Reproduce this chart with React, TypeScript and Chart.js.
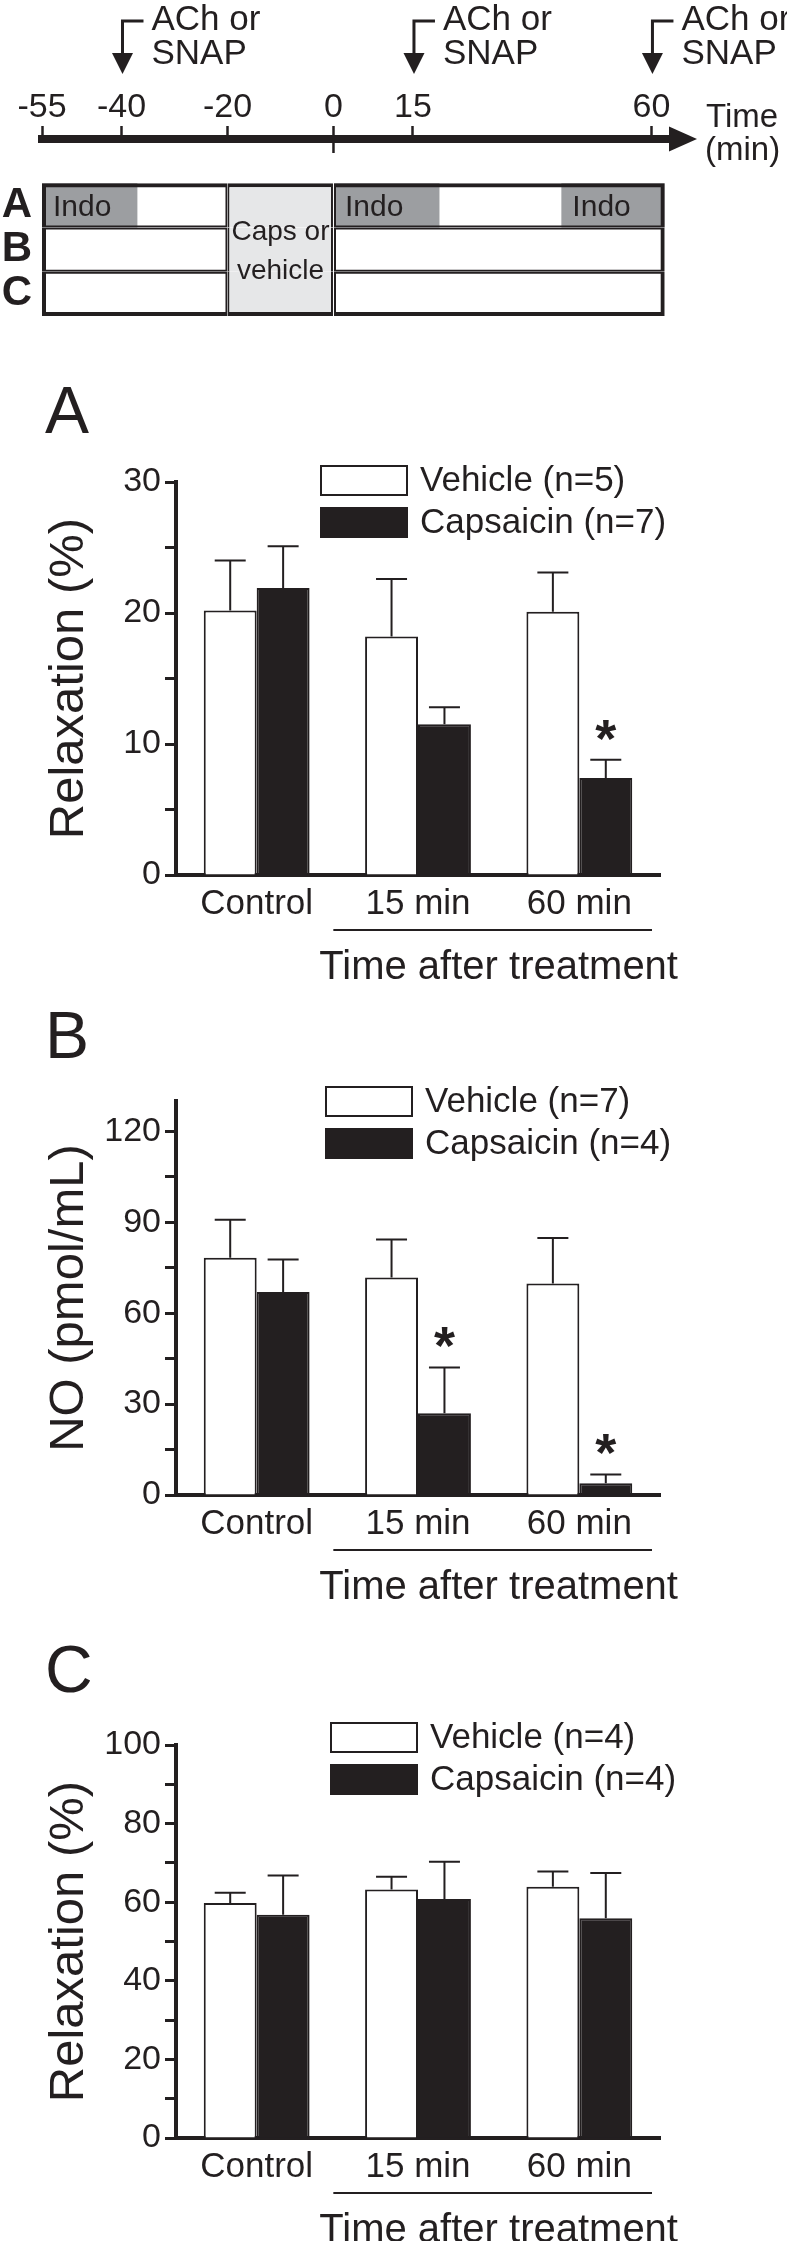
import React, { useEffect, useRef } from 'react';
import { Chart, registerables } from 'chart.js';

Chart.register(...registerables);

// ---------------- data: protocol timeline (minutes) ----------------
const TIME_TICKS = [-55, -40, -20, 0, 15, 60];
const ARROW_TIMES = [-40, 15, 60];
const ARROW_TEXT = ['ACh or', 'SNAP'];
const TIME_LABEL = ['Time', '(min)'];
const PROTOCOL_ROWS = ['', 'A', 'B', 'C'];
const PRE_PERIOD = [-55, -20];
const TREATMENT_PERIOD = [-20, 0];
const POST_PERIOD = [0, 62.5];
const INDO_PERIODS = [[-55, -37], [0, 20], [43, 62.5]];
const INDO_TEXT = 'Indo';
const TREATMENT_TEXT = ['Caps or', 'vehicle'];
const TIME_MIN = -55;
const TIME_MAX = 63.5;

// ---------------- data: bar panels ----------------
const CATEGORIES = ['Control', '15 min', '60 min'];
const GROUP_TITLE = 'Time after treatment';

const A_LABELS = ['Vehicle (n=5)', 'Capsaicin (n=7)'];
const A_VEHICLE = [20.2, 18.2, 20.1];
const A_VEHICLE_SEM = [3.8, 4.4, 3.0];
const A_CAPS = [21.9, 11.5, 7.4];
const A_CAPS_SEM = [3.2, 1.3, 1.4];
const A_CAPS_SIG = [false, false, true];

const B_LABELS = ['Vehicle (n=7)', 'Capsaicin (n=4)'];
const B_VEHICLE = [78.3, 71.8, 69.8];
const B_VEHICLE_SEM = [12.5, 12.5, 15.0];
const B_CAPS = [67.0, 27.0, 3.9];
const B_CAPS_SEM = [10.7, 15.1, 2.9];
const B_CAPS_SIG = [false, true, true];

const C_LABELS = ['Vehicle (n=4)', 'Capsaicin (n=4)'];
const C_VEHICLE = [59.8, 63.2, 63.9];
const C_VEHICLE_SEM = [2.6, 3.3, 3.9];
const C_CAPS = [56.8, 60.8, 55.9];
const C_CAPS_SEM = [10.0, 9.5, 11.5];
const C_CAPS_SIG = [false, false, false];

// ---------------- styles ----------------
const INK = '#231f20';
const INDO_GRAY = '#9c9ea1';
const TREAT_GRAY = '#e6e7e8';
const REG = "'Liberation Sans', Arial, sans-serif";

function hasFont(name: string): boolean {
  try {
    const c = document.createElement('canvas').getContext('2d');
    if (!c) return false;
    const s = 'Capsaicin 0123 Wmi';
    c.font = '100px monospace';
    const a = c.measureText(s).width;
    c.font = `100px '${name}', monospace`;
    const b = c.measureText(s).width;
    return Math.abs(a - b) > 0.5;
  } catch (e) {
    return false;
  }
}
const NARROW = hasFont('Liberation Sans Narrow');
const COND = NARROW ? "'Liberation Sans Narrow', 'Liberation Sans', sans-serif" : REG;
const K = NARROW ? 1 : 0.86;
const fs = (n: number) => Math.round(n * K);

// ---------------- timeline chart ----------------
function rowRange(range: number[]) {
  return PROTOCOL_ROWS.map((r) => (r === '' ? null : range));
}
function indoRange(range: number[]) {
  return PROTOCOL_ROWS.map((r) => (r === 'A' ? range : null));
}
const OUTER = 4;
const INNER = 2;
function boxBorder(kind: 'pre' | 'treat' | 'post') {
  return (ctx: any) => {
    const i = ctx.dataIndex;
    const first = i === 1;
    const last = i === PROTOCOL_ROWS.length - 1;
    const mid = kind === 'treat' ? 0 : INNER;
    return {
      top: first ? OUTER : mid,
      bottom: last ? OUTER : mid,
      left: kind === 'pre' ? OUTER : INNER,
      right: kind === 'post' ? OUTER : INNER,
    };
  };
}

const timelinePlugin = {
  id: 'timelineDecor',
  afterDraw(chart: any) {
    const { ctx, chartArea, scales } = chart;
    const xs = scales.x;
    const ys = scales.y;
    const axisY = chartArea.top;
    ctx.save();
    ctx.fillStyle = INK;
    ctx.strokeStyle = INK;
    // arrow head of time axis
    ctx.beginPath();
    ctx.moveTo(chartArea.right - 1, axisY - 12.5);
    ctx.lineTo(chartArea.right + 27, axisY);
    ctx.lineTo(chartArea.right - 1, axisY + 12.5);
    ctx.closePath();
    ctx.fill();
    // time zero mark below the axis
    const x0 = xs.getPixelForValue(0);
    ctx.lineWidth = 2.5;
    ctx.beginPath();
    ctx.moveTo(x0, axisY);
    ctx.lineTo(x0, axisY + 14);
    ctx.stroke();
    // axis caption
    ctx.font = `33px ${REG}`;
    ctx.textAlign = 'left';
    ctx.textBaseline = 'alphabetic';
    ctx.fillText(TIME_LABEL[0], chartArea.right + 36, axisY - 12);
    ctx.fillText(TIME_LABEL[1], chartArea.right + 35, axisY + 21);
    // application arrows
    ctx.font = `35px ${REG}`;
    ARROW_TIMES.forEach((t) => {
      const x = xs.getPixelForValue(t) + 1;
      ctx.lineWidth = 3;
      ctx.beginPath();
      ctx.moveTo(x + 21, axisY - 118);
      ctx.lineTo(x, axisY - 118);
      ctx.lineTo(x, axisY - 84);
      ctx.stroke();
      ctx.beginPath();
      ctx.moveTo(x - 10.5, axisY - 86);
      ctx.lineTo(x + 10.5, axisY - 86);
      ctx.lineTo(x, axisY - 65);
      ctx.closePath();
      ctx.fill();
      ctx.fillText(ARROW_TEXT[0], x + 29, axisY - 109);
      ctx.fillText(ARROW_TEXT[1], x + 29, axisY - 75);
    });
    // Indo labels
    ctx.font = `30px ${REG}`;
    ctx.textBaseline = 'middle';
    chart.data.datasets.forEach((ds: any, di: number) => {
      if (ds.label !== INDO_TEXT) return;
      chart.getDatasetMeta(di).data.forEach((el: any, i: number) => {
        if (ds.data[i] == null) return;
        const p = el.getProps(['x', 'base', 'y'], true);
        ctx.fillText(INDO_TEXT, Math.min(p.x, p.base) + 11, p.y + 2);
      });
    });
    // treatment box text
    const cx = (xs.getPixelForValue(TREATMENT_PERIOD[0]) + xs.getPixelForValue(TREATMENT_PERIOD[1])) / 2;
    const cy = ys.getPixelForValue(2);
    ctx.font = `28px ${REG}`;
    ctx.textAlign = 'center';
    ctx.fillText(TREATMENT_TEXT[0], cx, cy - 17);
    ctx.fillText(TREATMENT_TEXT[1], cx, cy + 22);
    ctx.restore();
  },
};

function timelineConfig(): any {
  const indoSets = INDO_PERIODS.map((r) => ({
    label: INDO_TEXT,
    data: indoRange(r),
    backgroundColor: INDO_GRAY,
    borderWidth: 0,
  }));
  return {
    type: 'bar',
    data: {
      labels: PROTOCOL_ROWS,
      datasets: [
        { label: 'pre', data: rowRange(PRE_PERIOD), backgroundColor: 'rgba(0,0,0,0)', borderColor: INK, borderWidth: boxBorder('pre'), borderSkipped: false },
        { label: 'post', data: rowRange(POST_PERIOD), backgroundColor: 'rgba(0,0,0,0)', borderColor: INK, borderWidth: boxBorder('post'), borderSkipped: false },
        { label: 'treatment', data: rowRange(TREATMENT_PERIOD), backgroundColor: TREAT_GRAY, borderColor: INK, borderWidth: boxBorder('treat'), borderSkipped: false },
        ...indoSets,
      ],
    },
    options: {
      indexAxis: 'y',
      responsive: false,
      maintainAspectRatio: false,
      animation: false,
      events: [],
      datasets: { bar: { grouped: false, barPercentage: 1, categoryPercentage: 1, inflateAmount: 0 } },
      layout: { padding: { left: 0, right: 117, top: 91, bottom: 31 } },
      plugins: { legend: { display: false }, tooltip: { enabled: false }, title: { display: false } },
      scales: {
        x: {
          type: 'linear',
          position: 'top',
          min: TIME_MIN,
          max: TIME_MAX,
          afterBuildTicks: (s: any) => {
            s.ticks = TIME_TICKS.map((v) => ({ value: v }));
          },
          afterFit: (s: any) => {
            s.height = 48;
          },
          ticks: {
            callback: (v: any) => String(v),
            font: { family: REG, size: 34, lineHeight: 1 },
            color: INK,
            padding: 1,
            maxRotation: 0,
            autoSkip: false,
          },
          grid: { display: true, drawOnChartArea: false, drawTicks: true, tickLength: 13, tickWidth: 2.5, tickColor: INK },
          border: { display: true, width: 8, color: INK },
        },
        y: {
          type: 'category',
          position: 'left',
          afterFit: (s: any) => {
            s.width = 42;
          },
          ticks: { font: { family: REG, size: 42, weight: 'bold', lineHeight: 1 }, color: INK, padding: 10, autoSkip: false },
          grid: { display: false, drawTicks: false },
          border: { display: false },
        },
      },
    },
    plugins: [timelinePlugin],
  };
}

// ---------------- bar panels ----------------
interface PanelSpec {
  letter: string;
  labels: string[];
  vehicle: number[];
  vehicleSem: number[];
  caps: number[];
  capsSem: number[];
  sig: boolean[];
  yMax: number;
  minorStep: number;
  majorStep: number;
  yTitle: string;
  padTop: number;
  titleGap: number;
  padBottom: number;
  legendX: number;
  legendY: number;
}

function makePanelPlugin(spec: PanelSpec) {
  return {
    id: 'panelDecor',
    afterDatasetsDraw(chart: any) {
      const { ctx, scales } = chart;
      const ys = scales.y;
      ctx.save();
      ctx.strokeStyle = INK;
      ctx.fillStyle = INK;
      ctx.lineWidth = 2;
      [spec.vehicleSem, spec.capsSem].forEach((sem, d) => {
        const vals = chart.data.datasets[d].data;
        chart.getDatasetMeta(d).data.forEach((el: any, i: number) => {
          const yTop = ys.getPixelForValue(vals[i]);
          const yErr = ys.getPixelForValue(vals[i] + sem[i]);
          ctx.beginPath();
          ctx.moveTo(el.x, yTop);
          ctx.lineTo(el.x, yErr);
          ctx.moveTo(el.x - 15.5, yErr);
          ctx.lineTo(el.x + 15.5, yErr);
          ctx.stroke();
          if (d === 1 && spec.sig[i]) {
            ctx.font = `bold 54px ${REG}`;
            ctx.textAlign = 'center';
            ctx.textBaseline = 'alphabetic';
            ctx.fillText('*', el.x, yErr - 3);
          }
        });
      });
      ctx.restore();
    },
    afterDraw(chart: any) {
      const { ctx, scales, chartArea } = chart;
      const xs = scales.x;
      ctx.save();
      ctx.strokeStyle = INK;
      ctx.fillStyle = INK;
      // legend
      const boxW = 88;
      const boxH = 31;
      const pitch = 42;
      chart.data.datasets.forEach((ds: any, d: number) => {
        const bx = spec.legendX;
        const by = spec.legendY + d * pitch;
        if (d === 0) {
          ctx.fillStyle = '#ffffff';
          ctx.fillRect(bx, by, boxW, boxH);
          ctx.lineWidth = 2;
          ctx.strokeRect(bx + 1, by + 1, boxW - 2, boxH - 2);
        } else {
          ctx.fillStyle = INK;
          ctx.fillRect(bx, by, boxW, boxH);
        }
        ctx.fillStyle = INK;
        ctx.font = `${fs(41)}px ${COND}`;
        ctx.textAlign = 'left';
        ctx.textBaseline = 'middle';
        ctx.fillText(ds.label, bx + boxW + 12, by + boxH / 2 + 1);
      });
      // group bracket for the post-treatment categories
      const x1 = xs.getPixelForTick(1);
      const x2 = xs.getPixelForTick(2);
      const cw = x2 - x1;
      const ly = chartArea.bottom + 55;
      ctx.lineWidth = 2;
      ctx.beginPath();
      ctx.moveTo(x1 - cw / 2 - 4, ly);
      ctx.lineTo(x2 + cw / 2 - 8, ly);
      ctx.stroke();
      ctx.font = `${fs(46)}px ${COND}`;
      ctx.textAlign = 'center';
      ctx.textBaseline = 'alphabetic';
      ctx.fillText(GROUP_TITLE, (x1 + x2) / 2, chartArea.bottom + 104);
      ctx.restore();
    },
  };
}

function panelConfig(spec: PanelSpec): any {
  const onStep = (v: number, step: number) => Math.abs(v / step - Math.round(v / step)) < 1e-6;
  return {
    type: 'bar',
    data: {
      labels: CATEGORIES,
      datasets: [
        { label: spec.labels[0], data: spec.vehicle, backgroundColor: '#ffffff', borderColor: INK, borderWidth: 2 },
        { label: spec.labels[1], data: spec.caps, backgroundColor: INK, borderColor: INK, borderWidth: 2 },
      ],
    },
    options: {
      responsive: false,
      maintainAspectRatio: false,
      animation: false,
      events: [],
      datasets: { bar: { barPercentage: 1, categoryPercentage: 0.656 } },
      layout: { padding: { left: 45, right: 127, top: spec.padTop, bottom: spec.padBottom } },
      plugins: {
        legend: { display: false },
        tooltip: { enabled: false },
        title: {
          display: true,
          text: spec.letter,
          align: 'start',
          color: INK,
          font: { family: REG, size: 66, weight: 'normal', lineHeight: 1 },
          padding: { top: 0, bottom: spec.titleGap },
        },
      },
      scales: {
        x: {
          grid: { display: false, drawTicks: false },
          border: { display: true, width: 4, color: INK },
          ticks: { font: { family: COND, size: fs(41), lineHeight: 1.2 }, color: INK, padding: 8, maxRotation: 0, autoSkip: false },
          afterFit: (s: any) => {
            s.height = 54;
          },
        },
        y: {
          min: 0,
          max: spec.yMax,
          afterBuildTicks: (s: any) => {
            const ticks: any[] = [];
            for (let v = 0; v <= spec.yMax + 1e-9; v += spec.minorStep) ticks.push({ value: v });
            s.ticks = ticks;
          },
          afterFit: (s: any) => {
            s.width = 131;
          },
          ticks: {
            stepSize: spec.minorStep,
            autoSkip: false,
            callback: (v: any) => (onStep(v, spec.majorStep) ? String(v) : ''),
            font: { family: COND, size: fs(39), lineHeight: 1.2 },
            color: INK,
            padding: 4,
          },
          grid: { display: true, drawOnChartArea: false, drawTicks: true, tickLength: 11, tickWidth: 3, tickColor: INK },
          border: { display: true, width: 4, color: INK },
          title: {
            display: true,
            text: spec.yTitle,
            color: INK,
            font: { family: COND, size: fs(57), lineHeight: 1 },
            padding: { top: 0, bottom: 0 },
          },
        },
      },
    },
    plugins: [makePanelPlugin(spec)],
  };
}

const PANEL_A: PanelSpec = {
  letter: 'A', labels: A_LABELS, vehicle: A_VEHICLE, vehicleSem: A_VEHICLE_SEM, caps: A_CAPS, capsSem: A_CAPS_SEM, sig: A_CAPS_SIG,
  yMax: 30, minorStep: 5, majorStep: 10, yTitle: 'Relaxation (%)',
  padTop: 11.8, titleGap: 34.2, padBottom: 61, legendX: 320, legendY: 95,
};
const PANEL_B: PanelSpec = {
  letter: 'B', labels: B_LABELS, vehicle: B_VEHICLE, vehicleSem: B_VEHICLE_SEM, caps: B_CAPS, capsSem: B_CAPS_SEM, sig: B_CAPS_SIG,
  yMax: 130, minorStep: 15, majorStep: 30, yTitle: 'NO (pmol/mL)',
  padTop: 16.8, titleGap: 28.2, padBottom: 71, legendX: 325, legendY: 96,
};
const PANEL_C: PanelSpec = {
  letter: 'C', labels: C_LABELS, vehicle: C_VEHICLE, vehicleSem: C_VEHICLE_SEM, caps: C_CAPS, capsSem: C_CAPS_SEM, sig: C_CAPS_SIG,
  yMax: 100, minorStep: 10, majorStep: 20, yTitle: 'Relaxation (%)',
  padTop: 20.8, titleGap: 38.2, padBottom: 49, legendX: 330, legendY: 102,
};

function ChartCanvas(props: { top: number; height: number; makeConfig: () => any }) {
  const ref = useRef<HTMLCanvasElement>(null);
  useEffect(() => {
    if (!ref.current) return;
    const chart = new Chart(ref.current, props.makeConfig());
    return () => chart.destroy();
  }, []);
  return (
    <canvas
      ref={ref}
      width={787}
      height={props.height}
      style={{ position: 'absolute', left: 0, top: props.top, width: 787, height: props.height, display: 'block' }}
    />
  );
}

export default function App() {
  return (
    <div style={{ position: 'absolute', left: 0, top: 0, width: 787, height: 2241, background: '#ffffff', overflow: 'hidden' }}>
      <ChartCanvas top={0} height={347} makeConfig={timelineConfig} />
      <ChartCanvas top={370} height={620} makeConfig={() => panelConfig(PANEL_A)} />
      <ChartCanvas top={990} height={630} makeConfig={() => panelConfig(PANEL_B)} />
      <ChartCanvas top={1620} height={621} makeConfig={() => panelConfig(PANEL_C)} />
    </div>
  );
}
